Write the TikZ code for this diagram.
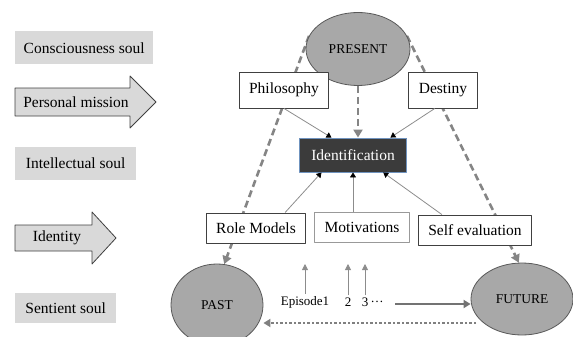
\documentclass[tikz,border=0pt]{standalone}
\usepackage{fontspec}
\setmainfont{Liberation Serif}
\usetikzlibrary{arrows.meta,shapes.geometric,backgrounds}
\definecolor{soulgray}{HTML}{D9D9D9}
\definecolor{timegray}{HTML}{A8A8A8}
\definecolor{idfill}{HTML}{3B3B3B}
\definecolor{idedge}{HTML}{6F93BF}

\begin{document}
\begin{tikzpicture}[x=1pt, y=-1pt, line join=round, font=\fontsize{15.5}{18}\selectfont,
	soul/.style={fill=soulgray, anchor=west, minimum height=33pt, inner sep=0pt},
	bigarrow/.style={draw=black!75, fill=soulgray, line width=0.8pt},
	box/.style={draw=black!75, fill=white, line width=0.9pt, inner xsep=10pt, inner ysep=0pt, minimum height=30pt},
	time/.style={ellipse, draw=black!65, fill=timegray, line width=0.8pt, inner sep=0pt, font=\fontsize{13.5}{16}\selectfont},
	episode/.style={inner sep=2pt, font=\fontsize{13}{15}\selectfont},
	link/.style={draw=black!45, line width=0.8pt, -{Triangle[length=5pt,width=6pt,color=black]}},
	uplink/.style={draw=black!45, line width=0.8pt, -{Triangle[length=6pt,width=6pt]}},
	tense/.style={draw=black!48, line width=2.6pt, dash pattern=on 7pt off 4pt, -{Triangle[length=8pt,width=9pt]}},
	flow/.style={draw=black!55, line width=2pt, -{Triangle[length=7pt,width=8pt]}},
	backflow/.style={draw=black!50, line width=2.6pt, dash pattern=on 2.5pt off 2pt, -{Triangle[length=7pt,width=8pt]}}]
	\clip (0,0) rectangle (573,337);
	% left column
	\node[soul, minimum width=138pt] (cons) at (15,48) {Consciousness soul};
	\draw[bigarrow] (15,88)--(130,88)--(130,76)--(156,102)--(130,128)--(130,116)--(15,116)--cycle;
	\node (mission) at (76,102) {Personal mission};
	\node[soul, minimum width=121pt] (intel) at (15,163) {Intellectual soul};
	\draw[bigarrow] (15,225)--(92,225)--(92,212)--(116,238)--(92,264)--(92,251)--(15,251)--cycle;
	\node (identity) at (57,238) {Identity};
	\node[soul, minimum width=101pt, minimum height=30pt] (sent) at (15,308) {Sentient soul};
	% time ellipses
	\node[time, minimum width=104pt, minimum height=73pt] (present) at (358,49) {PRESENT};
	\node[time, minimum width=92pt, minimum height=82pt] (past) at (217,305) {PAST};
	\node[time, minimum width=102pt, minimum height=72pt] (future) at (522,299) {FUTURE};
	% boxes
	\node[box, minimum height=36pt] (philo) at (284,90) {Philosophy};
	\node[box, minimum height=36pt] (destiny) at (443,90) {Destiny};
	\node[box, draw=idedge, fill=idfill, text=white, minimum width=107pt, minimum height=34pt] (ident) at (353,155) {Identification};
	\node[box] (role) at (256,228) {Role Models};
	\node[box, draw=black!40] (motiv) at (362,227) {Motivations};
	\node[box] (self) at (475,230) {Self evaluation};
	\begin{scope}[on background layer]
		\draw[tense] (present.165)--(past.80);
		\draw[tense] (present.15)--(future.95);
	\end{scope}
	\draw[tense] (present.south)--(present.south |- ident.north);
	\draw[link] (philo.south)--(ident.141);
	\draw[link] (destiny.246)--(ident.25);
	\draw[link] (role.28)--(ident.209);
	\draw[link] (ident.south |- motiv.north)--(ident.south);
	\draw[link] (self.155)--(ident.330);
	% episodes
	\node[episode] (ep1) at (305,302) {Episode1};
	\node[episode] (ep2) at (348,302) {2};
	\node[episode] (ep3) at (365,302) {3};
	\node[episode, anchor=west, inner sep=0pt] (dots) at (ep3.east) {\ldots};
	\coordinate (uptop) at (305,264);
	\draw[uplink] (ep1.north)--(uptop);
	\draw[uplink] (ep2.north)--(ep2.north |- uptop);
	\draw[uplink] (ep3.north)--(ep3.north |- uptop);
	\coordinate (fwd) at (395,304);
	\draw[flow] (fwd)--(fwd -| future.west);
	\coordinate (back) at (476,323);
	\draw[backflow] (back)--(back -| past.east);
\end{tikzpicture}
\end{document}
